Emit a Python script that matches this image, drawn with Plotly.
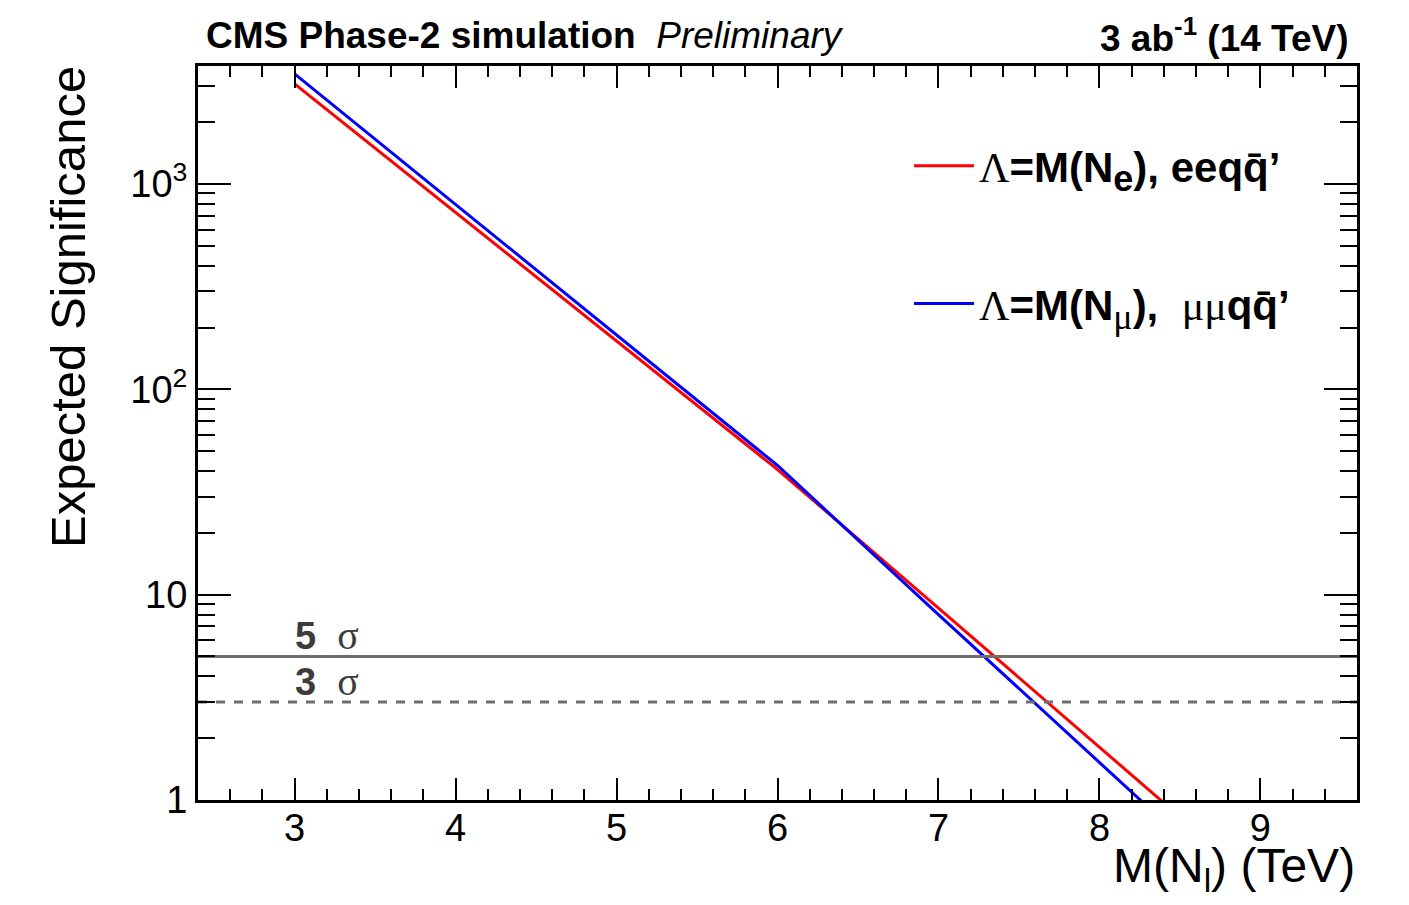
import math
import plotly.graph_objects as go

# ---- data ----
mass_tev = [3, 4, 5, 6, 7, 8, 9]
sig_ee = [3076, 728, 172, 40.7, 8.6, 1.81, 0.38]
sig_mumu = [3440, 796, 184, 42.6, 8.0, 1.52, 0.29]
sigma_levels = [5, 3]
sigma_labels = ["5", "3"]
x_ticks = [3, 4, 5, 6, 7, 8, 9]
y_ticks = [1, 10, 100, 1000]
y_ticktext = ["1", "10", "10<sup>2</sup>", "10<sup>3</sup>"]
y_minor = [2, 3, 4, 5, 6, 7, 8, 9, 20, 30, 40, 50, 60, 70, 80, 90,
           200, 300, 400, 500, 600, 700, 800, 900, 2000, 3000]
x_range = [2.4, 9.6]

W, H = 1409, 905
L, R, T, B = 198, 1357, 66, 800

SANS = "Liberation Sans, Arial, Helvetica, sans-serif"

def px(xp):
    return (xp - L) / (R - L)

def py(yp):
    return (B - yp) / (B - T)

fig = go.Figure()

lam = '<span style="font-family:Liberation Serif;font-weight:normal">Λ</span>'
mu = '<span style="font-family:Liberation Serif;font-weight:normal">μμ</span>'
name_ee = f"{lam}<b>=M(N<sub><span style=\"font-size:36px\">e</span></sub>), eeqq\u0304’</b>"
name_mm = f"{lam}<b>=M(N<sub><span style=\"font-size:36px;font-family:Liberation Serif;font-weight:normal\">μ</span></sub>), </b> {mu}<b>qq\u0304’</b>"

fig.add_trace(go.Scatter(x=mass_tev, y=sig_ee, mode="lines",
                         line=dict(color="#ff0000", width=3),
                         name=name_ee, legendgroup="ee"))
fig.add_trace(go.Scatter(x=mass_tev, y=sig_mumu, mode="lines",
                         line=dict(color="#0000ff", width=3),
                         name=name_mm, legendgroup="mm"))

# significance reference lines
for lvl, dash in zip(sigma_levels, ["solid", "dash"]):
    fig.add_trace(go.Scatter(x=x_range, y=[lvl, lvl], mode="lines",
                             line=dict(color="#6e6e6e", width=3, dash=dash),
                             showlegend=False, hoverinfo="skip"))

for lvl, lab in zip(sigma_levels, sigma_labels):
    fig.add_annotation(x=2.99, y=math.log10(lvl), xref="x", yref="y", yshift=21,
                       text=f"<b>{lab}</b>  <span style=\"font-family:Liberation Serif;font-size:40px\">σ</span>",
                       showarrow=False, xanchor="left", yanchor="middle",
                       font=dict(family=SANS, size=38, color="#3c3c3c"))

axis_common = dict(showline=True, linecolor="black", linewidth=3, mirror="ticks",
                   ticks="inside", tickwidth=2, tickcolor="black",
                   showgrid=False, zeroline=False,
                   tickfont=dict(family=SANS, size=38, color="black"))

fig.update_xaxes(range=x_range, tickmode="array", tickvals=x_ticks, ticklen=22,
                 ticklabelstandoff=-8,
                 minor=dict(ticks="inside", dtick=0.2, tick0=0, ticklen=11,
                            tickwidth=2, tickcolor="black", showgrid=False),
                 **axis_common)
fig.update_yaxes(type="log", range=[0, 3.575], tickmode="array", tickvals=y_ticks,
                 ticktext=y_ticktext, ticklen=33,
                 minor=dict(ticks="inside", tickmode="array", tickvals=y_minor,
                            ticklen=17, tickwidth=2, tickcolor="black", showgrid=False),
                 **axis_common)

# titles
fig.add_annotation(x=px(204), y=py(36), xref="paper", yref="paper",
                   text="<b>CMS Phase-2 simulation</b>  <i>Preliminary</i>",
                   showarrow=False, xanchor="left", yanchor="middle",
                   font=dict(family=SANS, size=37, color="black"))
fig.add_annotation(x=px(1351), y=py(36), xref="paper", yref="paper",
                   text="<b>3 ab<sup>-1</sup> (14 TeV)</b>",
                   showarrow=False, xanchor="right", yanchor="middle",
                   font=dict(family=SANS, size=37, color="black"))
fig.add_annotation(x=1.0, y=py(869), xref="paper", yref="paper",
                   text="M(N<sub>l</sub>) (TeV)",
                   showarrow=False, xanchor="right", yanchor="middle",
                   font=dict(family=SANS, size=48, color="black"))
fig.add_annotation(x=px(68), y=py(64), xref="paper", yref="paper",
                   text="Expected Significance", textangle=-90,
                   showarrow=False, xanchor="center", yanchor="top",
                   font=dict(family=SANS, size=49, color="black"))

fig.update_layout(
    width=W, height=H,
    margin=dict(l=L, r=W - R, t=T, b=H - B, pad=0),
    plot_bgcolor="white", paper_bgcolor="white",
    showlegend=True,
    legend=dict(x=px(909), y=py(132), xanchor="left", yanchor="top",
                bgcolor="rgba(0,0,0,0)", borderwidth=0,
                font=dict(family=SANS, size=42, color="black"),
                tracegroupgap=80, itemwidth=60),
)

fig.write_html("out.html")
